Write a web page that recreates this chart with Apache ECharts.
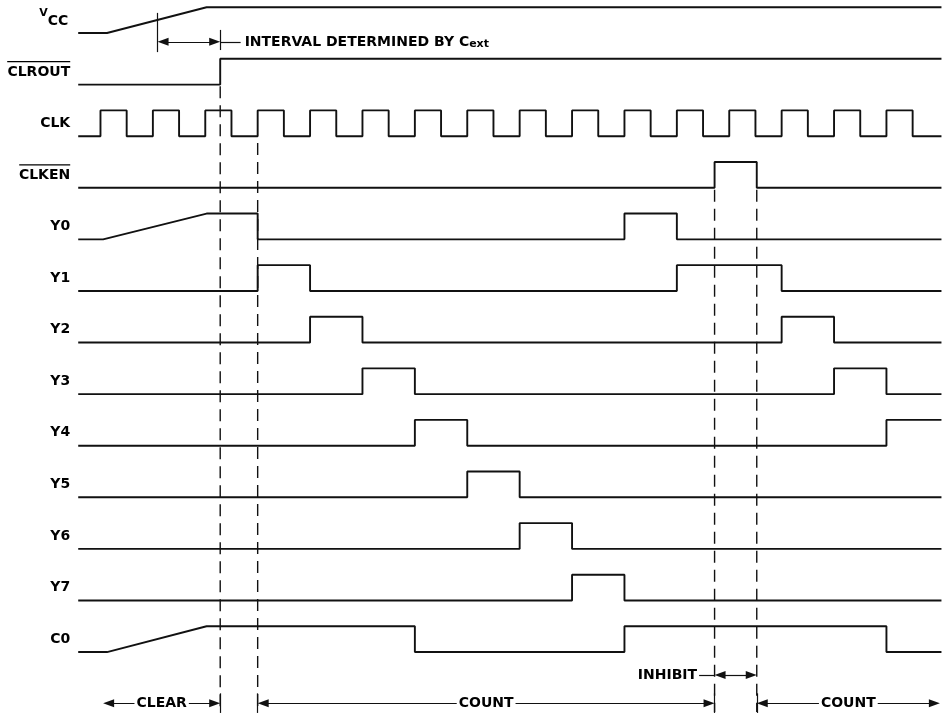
<!DOCTYPE html>
<html><head><meta charset="utf-8">
<script src="https://cdn.jsdelivr.net/npm/echarts@6/dist/echarts.min.js"></script>
<style>html,body{margin:0;padding:0;background:#fff}#c{width:948px;height:715px}</style>
</head><body><div id="c"></div>
<script>
// ---- data (time in clock half-periods; rows top→bottom) ----
const signalNames = ['VCC','CLROUT','CLK','CLKEN','Y0','Y1','Y2','Y3','Y4','Y5','Y6','Y7','C0'];
const overlined = ['CLROUT','CLKEN'];
const tStart = -0.85, tEnd = 32.1;
// ramps [start, end] (low→high), then edge times (level toggles)
const vccRamp = [0.25, 4.05];   const vccEdges = [];
const clroutEdges = [4.57];
const clkEdges = [0,1,2,3,4,5,6,7,8,9,10,11,12,13,14,15,16,17,18,19,20,21,22,23,24,25,26,27,28,29,30,31];
const clkenEdges = [23.44, 25.05];
const y0Ramp = [0.1, 4.05];     const y0Edges = [6, 20, 22];
const y1Edges = [6, 8, 22, 26];
const y2Edges = [8, 10, 26, 28];
const y3Edges = [10, 12, 28, 30];
const y4Edges = [12, 14, 30];
const y5Edges = [14, 16];
const y6Edges = [16, 18];
const y7Edges = [18, 20];
const c0Ramp = [0.25, 4.05];    const c0Edges = [12, 20, 30];
// dashed reference lines
const dashX = [4.57, 6, 23.44, 25.05];
const dashTop = [10.97, 9.87, 8.96, 8.96];
const dashBottom = -1.16;
// annotation arrows (tip to tip)
const arrowFrom = [0.1, 6, 25.05, 23.44, 2.18];
const arrowTo   = [4.57, 23.44, 32.04, 25.05, 4.57];
const arrowY    = [-0.99, -0.99, -0.99, -0.445, 11.83];
const arrowText = ['CLEAR', 'COUNT', 'COUNT', '', ''];

const waves = [
  [vccRamp, vccEdges], [null, clroutEdges], [null, clkEdges], [null, clkenEdges],
  [y0Ramp, y0Edges], [null, y1Edges], [null, y2Edges], [null, y3Edges], [null, y4Edges],
  [null, y5Edges], [null, y6Edges], [null, y7Edges], [c0Ramp, c0Edges]
];

const AMP = 0.5;
function wave(row, ramp, edges) {
  const base = 12 - row;
  const pts = [[tStart, base]];
  let lvl = 0;
  if (ramp) { pts.push([ramp[0], base]); pts.push([ramp[1], base + AMP]); lvl = 1; }
  edges.forEach(e => { pts.push([e, base + lvl * AMP]); lvl = 1 - lvl; pts.push([e, base + lvl * AMP]); });
  pts.push([tEnd, base + lvl * AMP]);
  return pts;
}

const FONT = '"DejaVu Sans", "Liberation Sans", sans-serif';
const INK = '#000';
const ctx = document.createElement('canvas').getContext('2d');
ctx.font = 'bold 14px "DejaVu Sans"';

const series = [];
waves.forEach((w, i) => {
  series.push({
    type: 'line', data: wave(i, w[0], w[1]), showSymbol: false, silent: true,
    lineStyle: { color: '#111', width: 1.9 }, animation: false, z: 3
  });
});
dashX.forEach((x, i) => {
  series.push({
    type: 'line', data: [[x, dashTop[i]], [x, dashBottom]], showSymbol: false, silent: true,
    lineStyle: { color: '#111', width: 1.4, type: [12, 7] }, animation: false, z: 2
  });
});

const rich = {
  b: { fontFamily: FONT, fontWeight: 'bold', fontSize: 14, color: INK, lineHeight: 20, align: 'right' },
  v: { fontFamily: FONT, fontWeight: 'bold', fontSize: 11, color: INK, lineHeight: 13, verticalAlign: 'top' },
  cc: { fontFamily: FONT, fontWeight: 'bold', fontSize: 14, color: INK, lineHeight: 20, verticalAlign: 'bottom' }
};
overlined.forEach(n => {
  rich['ol_' + n] = { width: Math.round(ctx.measureText(n).width), height: 1.3, lineHeight: 1.3, fontSize: 1, backgroundColor: INK };
});

series.push({
  type: 'scatter', silent: true, animation: false, symbolSize: 0,
  itemStyle: { color: INK },
  data: signalNames.map((n, i) => ({
    name: n, value: [tStart, 12 - i + AMP / 2],
    label: n === 'VCC' ? { offset: [-2, -2] } : undefined
  })),
  label: {
    show: true, position: 'left', distance: 8, color: INK, opacity: 1,
    formatter: p => {
      const n = p.name;
      if (n === 'VCC') return '{v|V}{cc|CC}';
      if (overlined.includes(n)) return '{ol_' + n + '| }\n{b|' + n + '}';
      return '{b|' + n + '}';
    },
    rich: rich
  }
});

const HEAD = 11;                // arrowhead length (px)
const HEAD_T = HEAD / 2 / 26.2; // half head in time units, so tips land on the given values
const labelStyle = { fontFamily: FONT, fontWeight: 'bold', fontSize: 14, color: INK };
const mlData = [];
arrowFrom.forEach((f, i) => {
  const item = [
    { coord: [f + HEAD_T, arrowY[i]], symbol: 'triangle', symbolSize: [8, HEAD] },
    { coord: [arrowTo[i] - HEAD_T, arrowY[i]], symbol: 'triangle', symbolSize: [8, HEAD] }
  ];
  if (arrowText[i]) item[0].label = { show: true, position: 'middle', distance: 0, verticalAlign: 'middle', formatter: arrowText[i], backgroundColor: '#fff', padding: [2, 2], ...labelStyle };
  else item[0].label = { show: false };
  mlData.push(item);
});
// INHIBIT leader
mlData.push([
  { coord: [22.85, -0.445], symbol: 'none', label: { show: true, position: 'start', distance: 2, formatter: 'INHIBIT', ...labelStyle } },
  { coord: [23.44, -0.445], symbol: 'none' }
]);
// INTERVAL leader
mlData.push([
  { coord: [4.57, 11.83], symbol: 'none', label: { show: true, position: 'end', distance: 4,
     formatter: '{t|INTERVAL DETERMINED BY C}{s|ext}',
     rich: { t: { ...labelStyle, lineHeight: 16, verticalAlign: 'bottom' }, s: { ...labelStyle, fontSize: 11, lineHeight: 10, verticalAlign: 'bottom', padding: [3, 0, 0, 0] } } } },
  { coord: [5.35, 11.83], symbol: 'none' }
]);
// vertical ticks
mlData.push([{ coord: [2.18, 12.39], symbol: 'none', label: { show: false } }, { coord: [2.18, 11.63], symbol: 'none' }]);
mlData.push([{ coord: [4.57, 12.06], symbol: 'none', label: { show: false } }, { coord: [4.57, 11.67], symbol: 'none' }]);
// short bars at arrow tips on the bottom line
[4.57, 6, 23.44, 25.05].forEach(x => {
  mlData.push([{ coord: [x, -0.8], symbol: 'none', label: { show: false } }, { coord: [x, -1.18], symbol: 'none' }]);
});

series.push({
  type: 'line', data: [], silent: true, animation: false,
  markLine: {
    silent: true, animation: false, symbol: ['none', 'none'],
    lineStyle: { color: '#111', width: 1.2, type: 'solid' },
    itemStyle: { color: '#111' },
    label: { show: false },
    emphasis: { disabled: true },
    data: mlData
  }
});

const chart = echarts.init(document.getElementById('c'), null, { renderer: 'canvas' });
chart.setOption({
  animation: false,
  backgroundColor: '#fff',
  grid: { left: 76.9, right: 1.3, top: 0, bottom: 0, containLabel: false },
  xAxis: { type: 'value', min: -0.9, max: 32.3, show: false },
  yAxis: { type: 'value', min: -1.22, max: 12.64, show: false },
  series: series
});
</script></body></html>
